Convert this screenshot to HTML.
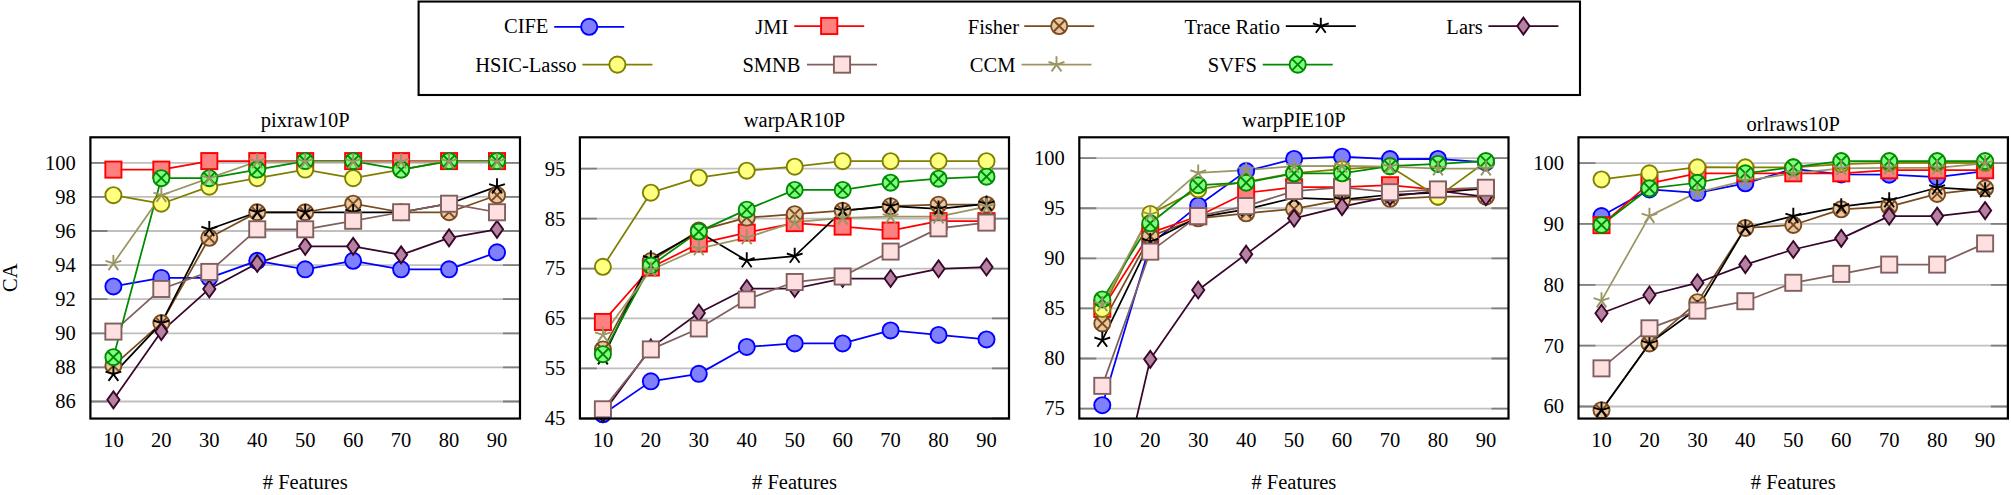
<!DOCTYPE html>
<html lang="en"><head><meta charset="utf-8"><title>CA vs # Features</title>
<style>html,body{margin:0;padding:0;background:#fff}svg{display:block}</style>
</head><body>
<svg width="2011" height="495" viewBox="0 0 2011 495" font-family='"Liberation Serif", "DejaVu Serif", serif' font-size="20.5" fill="#000">
<rect width="2011" height="495" fill="#fff"/>
<g id="plot0">
<clipPath id="clip0"><rect x="90.4" y="137.3" width="429.6" height="281.25"/></clipPath>
<path d="M90.4 401.5H520M90.4 367.4H520M90.4 333.3H520M90.4 299.2H520M90.4 265.1H520M90.4 231H520M90.4 196.9H520M90.4 162.8H520" stroke="#bfbfbf" stroke-width="1.8" fill="none"/>
<path d="M90.4 401.5h17.0M520 401.5h-17.0M90.4 367.4h17.0M520 367.4h-17.0M90.4 333.3h17.0M520 333.3h-17.0M90.4 299.2h17.0M520 299.2h-17.0M90.4 265.1h17.0M520 265.1h-17.0M90.4 231h17.0M520 231h-17.0M90.4 196.9h17.0M520 196.9h-17.0M90.4 162.8h17.0M520 162.8h-17.0" stroke="#7f7f7f" stroke-width="1.8" fill="none"/>
<g clip-path="url(#clip0)" fill="none" stroke-width="1.75" stroke-linejoin="round">
<polyline points="113.4,286.41 161.35,277.89 209.3,277.89 257.25,260.84 305.2,269.36 353.15,260.84 401.1,269.36 449.05,269.36 497,252.31" stroke="#0000ff"/>
<polyline points="113.4,169.62 161.35,169.62 209.3,161.1 257.25,161.1 305.2,161.1 353.15,161.1 401.1,161.1 449.05,161.1 497,161.1" stroke="#ff0000"/>
<polyline points="113.4,365.7 161.35,323.07 209.3,237.82 257.25,212.25 305.2,212.25 353.15,203.72 401.1,212.25 449.05,212.25 497,195.2" stroke="#7a4b1e"/>
<polyline points="113.4,374.22 161.35,323.07 209.3,229.3 257.25,212.25 305.2,212.25 353.15,212.25 401.1,212.25 449.05,203.72 497,186.67" stroke="#000000"/>
<polyline points="113.4,399.8 161.35,331.6 209.3,288.97 257.25,263.4 305.2,246.35 353.15,246.35 401.1,254.87 449.05,237.82 497,229.3" stroke="#38062c"/>
<polyline points="113.4,195.2 161.35,203.72 209.3,186.67 257.25,178.15 305.2,169.62 353.15,178.15 401.1,169.62 449.05,161.1 497,161.1" stroke="#808000"/>
<polyline points="113.4,331.6 161.35,288.97 209.3,271.92 257.25,229.3 305.2,229.3 353.15,220.77 401.1,212.25 449.05,203.72 497,212.25" stroke="#80605f"/>
<polyline points="113.4,357.17 161.35,178.15 209.3,178.15 257.25,169.62 305.2,161.1 353.15,161.1 401.1,169.62 449.05,161.1 497,161.1" stroke="#008a00"/>
<polyline points="113.4,263.4 161.35,195.2 209.3,178.15 257.25,161.44 305.2,161.61 353.15,161.61 401.1,161.61 449.05,161.61 497,161.61" stroke="#9a9562"/>
</g>
<g>
<circle cx="113.4" cy="286.41" r="8.05" fill="#8080ff" stroke="#0000ff" stroke-width="1.9"/>
<circle cx="161.35" cy="277.89" r="8.05" fill="#8080ff" stroke="#0000ff" stroke-width="1.9"/>
<circle cx="209.3" cy="277.89" r="8.05" fill="#8080ff" stroke="#0000ff" stroke-width="1.9"/>
<circle cx="257.25" cy="260.84" r="8.05" fill="#8080ff" stroke="#0000ff" stroke-width="1.9"/>
<circle cx="305.2" cy="269.36" r="8.05" fill="#8080ff" stroke="#0000ff" stroke-width="1.9"/>
<circle cx="353.15" cy="260.84" r="8.05" fill="#8080ff" stroke="#0000ff" stroke-width="1.9"/>
<circle cx="401.1" cy="269.36" r="8.05" fill="#8080ff" stroke="#0000ff" stroke-width="1.9"/>
<circle cx="449.05" cy="269.36" r="8.05" fill="#8080ff" stroke="#0000ff" stroke-width="1.9"/>
<circle cx="497" cy="252.31" r="8.05" fill="#8080ff" stroke="#0000ff" stroke-width="1.9"/>
<rect x="105.35" y="161.57" width="16.1" height="16.1" fill="#ff8080" stroke="#ff0000" stroke-width="1.9"/>
<rect x="153.3" y="161.57" width="16.1" height="16.1" fill="#ff8080" stroke="#ff0000" stroke-width="1.9"/>
<rect x="201.25" y="153.05" width="16.1" height="16.1" fill="#ff8080" stroke="#ff0000" stroke-width="1.9"/>
<rect x="249.2" y="153.05" width="16.1" height="16.1" fill="#ff8080" stroke="#ff0000" stroke-width="1.9"/>
<rect x="297.15" y="153.05" width="16.1" height="16.1" fill="#ff8080" stroke="#ff0000" stroke-width="1.9"/>
<rect x="345.1" y="153.05" width="16.1" height="16.1" fill="#ff8080" stroke="#ff0000" stroke-width="1.9"/>
<rect x="393.05" y="153.05" width="16.1" height="16.1" fill="#ff8080" stroke="#ff0000" stroke-width="1.9"/>
<rect x="441" y="153.05" width="16.1" height="16.1" fill="#ff8080" stroke="#ff0000" stroke-width="1.9"/>
<rect x="488.95" y="153.05" width="16.1" height="16.1" fill="#ff8080" stroke="#ff0000" stroke-width="1.9"/>
<circle cx="113.4" cy="365.7" r="8.05" fill="#e9c7a3" stroke="#7a4b1e" stroke-width="1.9"/><path d="M107.71 360L119.09 371.39M107.71 371.39L119.09 360" fill="none" stroke="#7a4b1e" stroke-width="1.9"/>
<circle cx="161.35" cy="323.07" r="8.05" fill="#e9c7a3" stroke="#7a4b1e" stroke-width="1.9"/><path d="M155.66 317.38L167.04 328.76M155.66 328.76L167.04 317.38" fill="none" stroke="#7a4b1e" stroke-width="1.9"/>
<circle cx="209.3" cy="237.82" r="8.05" fill="#e9c7a3" stroke="#7a4b1e" stroke-width="1.9"/><path d="M203.61 232.13L214.99 243.51M203.61 243.51L214.99 232.13" fill="none" stroke="#7a4b1e" stroke-width="1.9"/>
<circle cx="257.25" cy="212.25" r="8.05" fill="#e9c7a3" stroke="#7a4b1e" stroke-width="1.9"/><path d="M251.56 206.55L262.94 217.94M251.56 217.94L262.94 206.55" fill="none" stroke="#7a4b1e" stroke-width="1.9"/>
<circle cx="305.2" cy="212.25" r="8.05" fill="#e9c7a3" stroke="#7a4b1e" stroke-width="1.9"/><path d="M299.51 206.55L310.89 217.94M299.51 217.94L310.89 206.55" fill="none" stroke="#7a4b1e" stroke-width="1.9"/>
<circle cx="353.15" cy="203.72" r="8.05" fill="#e9c7a3" stroke="#7a4b1e" stroke-width="1.9"/><path d="M347.46 198.03L358.84 209.41M347.46 209.41L358.84 198.03" fill="none" stroke="#7a4b1e" stroke-width="1.9"/>
<circle cx="401.1" cy="212.25" r="8.05" fill="#e9c7a3" stroke="#7a4b1e" stroke-width="1.9"/><path d="M395.41 206.55L406.79 217.94M395.41 217.94L406.79 206.55" fill="none" stroke="#7a4b1e" stroke-width="1.9"/>
<circle cx="449.05" cy="212.25" r="8.05" fill="#e9c7a3" stroke="#7a4b1e" stroke-width="1.9"/><path d="M443.36 206.55L454.74 217.94M443.36 217.94L454.74 206.55" fill="none" stroke="#7a4b1e" stroke-width="1.9"/>
<circle cx="497" cy="195.2" r="8.05" fill="#e9c7a3" stroke="#7a4b1e" stroke-width="1.9"/><path d="M491.31 189.5L502.69 200.89M491.31 200.89L502.69 189.5" fill="none" stroke="#7a4b1e" stroke-width="1.9"/>
<path d="M113.4 374.22L113.4 365.92M113.4 374.22L105.51 371.66M113.4 374.22L108.52 380.93M113.4 374.22L118.28 380.93M113.4 374.22L121.29 371.66" fill="none" stroke="#000000" stroke-width="1.9"/>
<path d="M161.35 323.07L161.35 314.77M161.35 323.07L153.46 320.51M161.35 323.07L156.47 329.78M161.35 323.07L166.23 329.78M161.35 323.07L169.24 320.51" fill="none" stroke="#000000" stroke-width="1.9"/>
<path d="M209.3 229.3L209.3 221M209.3 229.3L201.41 226.73M209.3 229.3L204.42 236.01M209.3 229.3L214.18 236.01M209.3 229.3L217.19 226.73" fill="none" stroke="#000000" stroke-width="1.9"/>
<path d="M257.25 212.25L257.25 203.95M257.25 212.25L249.36 209.68M257.25 212.25L252.37 218.96M257.25 212.25L262.13 218.96M257.25 212.25L265.14 209.68" fill="none" stroke="#000000" stroke-width="1.9"/>
<path d="M305.2 212.25L305.2 203.95M305.2 212.25L297.31 209.68M305.2 212.25L300.32 218.96M305.2 212.25L310.08 218.96M305.2 212.25L313.09 209.68" fill="none" stroke="#000000" stroke-width="1.9"/>
<path d="M353.15 212.25L353.15 203.95M353.15 212.25L345.26 209.68M353.15 212.25L348.27 218.96M353.15 212.25L358.03 218.96M353.15 212.25L361.04 209.68" fill="none" stroke="#000000" stroke-width="1.9"/>
<path d="M401.1 212.25L401.1 203.95M401.1 212.25L393.21 209.68M401.1 212.25L396.22 218.96M401.1 212.25L405.98 218.96M401.1 212.25L408.99 209.68" fill="none" stroke="#000000" stroke-width="1.9"/>
<path d="M449.05 203.72L449.05 195.42M449.05 203.72L441.16 201.16M449.05 203.72L444.17 210.43M449.05 203.72L453.93 210.43M449.05 203.72L456.94 201.16" fill="none" stroke="#000000" stroke-width="1.9"/>
<path d="M497 186.67L497 178.37M497 186.67L489.11 184.11M497 186.67L492.12 193.38M497 186.67L501.88 193.38M497 186.67L504.89 184.11" fill="none" stroke="#000000" stroke-width="1.9"/>
<path d="M113.4 391.35L119.48 399.8L113.4 408.25L107.32 399.8Z" fill="#b5839f" stroke="#38062c" stroke-width="1.9" stroke-miterlimit="10"/>
<path d="M161.35 323.15L167.43 331.6L161.35 340.05L155.27 331.6Z" fill="#b5839f" stroke="#38062c" stroke-width="1.9" stroke-miterlimit="10"/>
<path d="M209.3 280.52L215.38 288.97L209.3 297.42L203.22 288.97Z" fill="#b5839f" stroke="#38062c" stroke-width="1.9" stroke-miterlimit="10"/>
<path d="M257.25 254.95L263.33 263.4L257.25 271.85L251.17 263.4Z" fill="#b5839f" stroke="#38062c" stroke-width="1.9" stroke-miterlimit="10"/>
<path d="M305.2 237.9L311.28 246.35L305.2 254.8L299.12 246.35Z" fill="#b5839f" stroke="#38062c" stroke-width="1.9" stroke-miterlimit="10"/>
<path d="M353.15 237.9L359.23 246.35L353.15 254.8L347.07 246.35Z" fill="#b5839f" stroke="#38062c" stroke-width="1.9" stroke-miterlimit="10"/>
<path d="M401.1 246.42L407.18 254.87L401.1 263.32L395.02 254.87Z" fill="#b5839f" stroke="#38062c" stroke-width="1.9" stroke-miterlimit="10"/>
<path d="M449.05 229.37L455.13 237.82L449.05 246.27L442.97 237.82Z" fill="#b5839f" stroke="#38062c" stroke-width="1.9" stroke-miterlimit="10"/>
<path d="M497 220.85L503.08 229.3L497 237.75L490.92 229.3Z" fill="#b5839f" stroke="#38062c" stroke-width="1.9" stroke-miterlimit="10"/>
<circle cx="113.4" cy="195.2" r="8.05" fill="#ffff80" stroke="#808000" stroke-width="1.9"/>
<circle cx="161.35" cy="203.72" r="8.05" fill="#ffff80" stroke="#808000" stroke-width="1.9"/>
<circle cx="209.3" cy="186.67" r="8.05" fill="#ffff80" stroke="#808000" stroke-width="1.9"/>
<circle cx="257.25" cy="178.15" r="8.05" fill="#ffff80" stroke="#808000" stroke-width="1.9"/>
<circle cx="305.2" cy="169.62" r="8.05" fill="#ffff80" stroke="#808000" stroke-width="1.9"/>
<circle cx="353.15" cy="178.15" r="8.05" fill="#ffff80" stroke="#808000" stroke-width="1.9"/>
<circle cx="401.1" cy="169.62" r="8.05" fill="#ffff80" stroke="#808000" stroke-width="1.9"/>
<circle cx="449.05" cy="161.1" r="8.05" fill="#ffff80" stroke="#808000" stroke-width="1.9"/>
<circle cx="497" cy="161.1" r="8.05" fill="#ffff80" stroke="#808000" stroke-width="1.9"/>
<rect x="105.35" y="323.55" width="16.1" height="16.1" fill="#ffe0e0" stroke="#80605f" stroke-width="1.9"/>
<rect x="153.3" y="280.92" width="16.1" height="16.1" fill="#ffe0e0" stroke="#80605f" stroke-width="1.9"/>
<rect x="201.25" y="263.87" width="16.1" height="16.1" fill="#ffe0e0" stroke="#80605f" stroke-width="1.9"/>
<rect x="249.2" y="221.25" width="16.1" height="16.1" fill="#ffe0e0" stroke="#80605f" stroke-width="1.9"/>
<rect x="297.15" y="221.25" width="16.1" height="16.1" fill="#ffe0e0" stroke="#80605f" stroke-width="1.9"/>
<rect x="345.1" y="212.72" width="16.1" height="16.1" fill="#ffe0e0" stroke="#80605f" stroke-width="1.9"/>
<rect x="393.05" y="204.2" width="16.1" height="16.1" fill="#ffe0e0" stroke="#80605f" stroke-width="1.9"/>
<rect x="441" y="195.67" width="16.1" height="16.1" fill="#ffe0e0" stroke="#80605f" stroke-width="1.9"/>
<rect x="488.95" y="204.2" width="16.1" height="16.1" fill="#ffe0e0" stroke="#80605f" stroke-width="1.9"/>
<circle cx="113.4" cy="357.17" r="8.05" fill="#80ff80" stroke="#008a00" stroke-width="1.9"/><path d="M107.71 351.48L119.09 362.86M107.71 362.86L119.09 351.48" fill="none" stroke="#008a00" stroke-width="1.9"/>
<circle cx="161.35" cy="178.15" r="8.05" fill="#80ff80" stroke="#008a00" stroke-width="1.9"/><path d="M155.66 172.45L167.04 183.84M155.66 183.84L167.04 172.45" fill="none" stroke="#008a00" stroke-width="1.9"/>
<circle cx="209.3" cy="178.15" r="8.05" fill="#80ff80" stroke="#008a00" stroke-width="1.9"/><path d="M203.61 172.45L214.99 183.84M203.61 183.84L214.99 172.45" fill="none" stroke="#008a00" stroke-width="1.9"/>
<circle cx="257.25" cy="169.62" r="8.05" fill="#80ff80" stroke="#008a00" stroke-width="1.9"/><path d="M251.56 163.93L262.94 175.31M251.56 175.31L262.94 163.93" fill="none" stroke="#008a00" stroke-width="1.9"/>
<circle cx="305.2" cy="161.1" r="8.05" fill="#80ff80" stroke="#008a00" stroke-width="1.9"/><path d="M299.51 155.4L310.89 166.79M299.51 166.79L310.89 155.4" fill="none" stroke="#008a00" stroke-width="1.9"/>
<circle cx="353.15" cy="161.1" r="8.05" fill="#80ff80" stroke="#008a00" stroke-width="1.9"/><path d="M347.46 155.4L358.84 166.79M347.46 166.79L358.84 155.4" fill="none" stroke="#008a00" stroke-width="1.9"/>
<circle cx="401.1" cy="169.62" r="8.05" fill="#80ff80" stroke="#008a00" stroke-width="1.9"/><path d="M395.41 163.93L406.79 175.31M395.41 175.31L406.79 163.93" fill="none" stroke="#008a00" stroke-width="1.9"/>
<circle cx="449.05" cy="161.1" r="8.05" fill="#80ff80" stroke="#008a00" stroke-width="1.9"/><path d="M443.36 155.4L454.74 166.79M443.36 166.79L454.74 155.4" fill="none" stroke="#008a00" stroke-width="1.9"/>
<circle cx="497" cy="161.1" r="8.05" fill="#80ff80" stroke="#008a00" stroke-width="1.9"/><path d="M491.31 155.4L502.69 166.79M491.31 166.79L502.69 155.4" fill="none" stroke="#008a00" stroke-width="1.9"/>
<path d="M113.4 263.4L113.4 255.1M113.4 263.4L105.51 260.83M113.4 263.4L108.52 270.11M113.4 263.4L118.28 270.11M113.4 263.4L121.29 260.83" fill="none" stroke="#9a9562" stroke-width="1.9"/>
<path d="M161.35 195.2L161.35 186.9M161.35 195.2L153.46 192.63M161.35 195.2L156.47 201.91M161.35 195.2L166.23 201.91M161.35 195.2L169.24 192.63" fill="none" stroke="#9a9562" stroke-width="1.9"/>
<path d="M209.3 178.15L209.3 169.85M209.3 178.15L201.41 175.58M209.3 178.15L204.42 184.86M209.3 178.15L214.18 184.86M209.3 178.15L217.19 175.58" fill="none" stroke="#9a9562" stroke-width="1.9"/>
<path d="M257.25 161.44L257.25 153.14M257.25 161.44L249.36 158.87M257.25 161.44L252.37 168.15M257.25 161.44L262.13 168.15M257.25 161.44L265.14 158.87" fill="none" stroke="#9a9562" stroke-width="1.9"/>
<path d="M305.2 161.61L305.2 153.31M305.2 161.61L297.31 159.04M305.2 161.61L300.32 168.32M305.2 161.61L310.08 168.32M305.2 161.61L313.09 159.04" fill="none" stroke="#9a9562" stroke-width="1.9"/>
<path d="M353.15 161.61L353.15 153.31M353.15 161.61L345.26 159.04M353.15 161.61L348.27 168.32M353.15 161.61L358.03 168.32M353.15 161.61L361.04 159.04" fill="none" stroke="#9a9562" stroke-width="1.9"/>
<path d="M401.1 161.61L401.1 153.31M401.1 161.61L393.21 159.04M401.1 161.61L396.22 168.32M401.1 161.61L405.98 168.32M401.1 161.61L408.99 159.04" fill="none" stroke="#9a9562" stroke-width="1.9"/>
<path d="M449.05 161.61L449.05 153.31M449.05 161.61L441.16 159.04M449.05 161.61L444.17 168.32M449.05 161.61L453.93 168.32M449.05 161.61L456.94 159.04" fill="none" stroke="#9a9562" stroke-width="1.9"/>
<path d="M497 161.61L497 153.31M497 161.61L489.11 159.04M497 161.61L492.12 168.32M497 161.61L501.88 168.32M497 161.61L504.89 159.04" fill="none" stroke="#9a9562" stroke-width="1.9"/>
</g>
<rect x="90.4" y="137.3" width="429.6" height="281.25" fill="none" stroke="#000" stroke-width="2.2"/>
<g text-anchor="end">
<text x="75.8" y="408.4">86</text>
<text x="75.8" y="374.3">88</text>
<text x="75.8" y="340.2">90</text>
<text x="75.8" y="306.1">92</text>
<text x="75.8" y="272">94</text>
<text x="75.8" y="237.9">96</text>
<text x="75.8" y="203.8">98</text>
<text x="75.8" y="169.7">100</text>
</g>
<g text-anchor="middle">
<text x="113.4" y="447.3">10</text>
<text x="161.35" y="447.3">20</text>
<text x="209.3" y="447.3">30</text>
<text x="257.25" y="447.3">40</text>
<text x="305.2" y="447.3">50</text>
<text x="353.15" y="447.3">60</text>
<text x="401.1" y="447.3">70</text>
<text x="449.05" y="447.3">80</text>
<text x="497" y="447.3">90</text>
<text x="305.2" y="488.9"># Features</text>
<text x="305.2" y="126.9">pixraw10P</text>
</g>
</g>
<g id="plot1">
<clipPath id="clip1"><rect x="579.9" y="137.3" width="429.1" height="281.25"/></clipPath>
<path d="M579.9 418.3H1009M579.9 368.38H1009M579.9 318.46H1009M579.9 268.54H1009M579.9 218.62H1009M579.9 168.7H1009" stroke="#bfbfbf" stroke-width="1.8" fill="none"/>
<path d="M579.9 418.3h17.0M1009 418.3h-17.0M579.9 368.38h17.0M1009 368.38h-17.0M579.9 318.46h17.0M1009 318.46h-17.0M579.9 268.54h17.0M1009 268.54h-17.0M579.9 218.62h17.0M1009 218.62h-17.0M579.9 168.7h17.0M1009 168.7h-17.0" stroke="#7f7f7f" stroke-width="1.8" fill="none"/>
<g clip-path="url(#clip1)" fill="none" stroke-width="1.75" stroke-linejoin="round">
<polyline points="602.9,414.31 650.85,381.36 698.8,373.87 746.75,346.91 794.7,343.42 842.65,343.42 890.6,330.44 938.55,334.93 986.5,339.43" stroke="#0000ff"/>
<polyline points="602.9,321.95 650.85,267.54 698.8,243.58 746.75,232.6 794.7,223.11 842.65,226.61 890.6,230.6 938.55,221.12 986.5,221.12" stroke="#ff0000"/>
<polyline points="602.9,349.41 650.85,261.05 698.8,230.6 746.75,217.62 794.7,214.13 842.65,210.63 890.6,206.14 938.55,204.64 986.5,204.64" stroke="#7a4b1e"/>
<polyline points="602.9,357.65 650.85,258.56 698.8,232.1 746.75,260.55 794.7,256.06 842.65,210.63 890.6,206.14 938.55,208.89 986.5,203.89" stroke="#000000"/>
<polyline points="602.9,413.31 650.85,347.91 698.8,312.97 746.75,288.51 794.7,288.51 842.65,278.52 890.6,278.52 938.55,268.79 986.5,267.04" stroke="#38062c"/>
<polyline points="602.9,266.79 650.85,192.66 698.8,177.69 746.75,170.7 794.7,166.7 842.65,161.21 890.6,161.21 938.55,161.21 986.5,161.21" stroke="#808000"/>
<polyline points="602.9,409.31 650.85,349.41 698.8,328.44 746.75,299.49 794.7,282.02 842.65,276.53 890.6,251.57 938.55,228.35 986.5,222.61" stroke="#80605f"/>
<polyline points="602.9,354.15 650.85,265.54 698.8,231.6 746.75,209.63 794.7,189.92 842.65,189.92 890.6,182.68 938.55,178.68 986.5,176.69" stroke="#008a00"/>
<polyline points="602.9,334.93 650.85,270.04 698.8,248.57 746.75,237.59 794.7,222.11 842.65,217.87 890.6,216.62 938.55,216.62 986.5,206.64" stroke="#9a9562"/>
</g>
<g>
<circle cx="602.9" cy="414.31" r="8.05" fill="#8080ff" stroke="#0000ff" stroke-width="1.9"/>
<circle cx="650.85" cy="381.36" r="8.05" fill="#8080ff" stroke="#0000ff" stroke-width="1.9"/>
<circle cx="698.8" cy="373.87" r="8.05" fill="#8080ff" stroke="#0000ff" stroke-width="1.9"/>
<circle cx="746.75" cy="346.91" r="8.05" fill="#8080ff" stroke="#0000ff" stroke-width="1.9"/>
<circle cx="794.7" cy="343.42" r="8.05" fill="#8080ff" stroke="#0000ff" stroke-width="1.9"/>
<circle cx="842.65" cy="343.42" r="8.05" fill="#8080ff" stroke="#0000ff" stroke-width="1.9"/>
<circle cx="890.6" cy="330.44" r="8.05" fill="#8080ff" stroke="#0000ff" stroke-width="1.9"/>
<circle cx="938.55" cy="334.93" r="8.05" fill="#8080ff" stroke="#0000ff" stroke-width="1.9"/>
<circle cx="986.5" cy="339.43" r="8.05" fill="#8080ff" stroke="#0000ff" stroke-width="1.9"/>
<rect x="594.85" y="313.9" width="16.1" height="16.1" fill="#ff8080" stroke="#ff0000" stroke-width="1.9"/>
<rect x="642.8" y="259.49" width="16.1" height="16.1" fill="#ff8080" stroke="#ff0000" stroke-width="1.9"/>
<rect x="690.75" y="235.53" width="16.1" height="16.1" fill="#ff8080" stroke="#ff0000" stroke-width="1.9"/>
<rect x="738.7" y="224.55" width="16.1" height="16.1" fill="#ff8080" stroke="#ff0000" stroke-width="1.9"/>
<rect x="786.65" y="215.06" width="16.1" height="16.1" fill="#ff8080" stroke="#ff0000" stroke-width="1.9"/>
<rect x="834.6" y="218.56" width="16.1" height="16.1" fill="#ff8080" stroke="#ff0000" stroke-width="1.9"/>
<rect x="882.55" y="222.55" width="16.1" height="16.1" fill="#ff8080" stroke="#ff0000" stroke-width="1.9"/>
<rect x="930.5" y="213.07" width="16.1" height="16.1" fill="#ff8080" stroke="#ff0000" stroke-width="1.9"/>
<rect x="978.45" y="213.07" width="16.1" height="16.1" fill="#ff8080" stroke="#ff0000" stroke-width="1.9"/>
<circle cx="602.9" cy="349.41" r="8.05" fill="#e9c7a3" stroke="#7a4b1e" stroke-width="1.9"/><path d="M597.21 343.72L608.59 355.1M597.21 355.1L608.59 343.72" fill="none" stroke="#7a4b1e" stroke-width="1.9"/>
<circle cx="650.85" cy="261.05" r="8.05" fill="#e9c7a3" stroke="#7a4b1e" stroke-width="1.9"/><path d="M645.16 255.36L656.54 266.74M645.16 266.74L656.54 255.36" fill="none" stroke="#7a4b1e" stroke-width="1.9"/>
<circle cx="698.8" cy="230.6" r="8.05" fill="#e9c7a3" stroke="#7a4b1e" stroke-width="1.9"/><path d="M693.11 224.91L704.49 236.29M693.11 236.29L704.49 224.91" fill="none" stroke="#7a4b1e" stroke-width="1.9"/>
<circle cx="746.75" cy="217.62" r="8.05" fill="#e9c7a3" stroke="#7a4b1e" stroke-width="1.9"/><path d="M741.06 211.93L752.44 223.31M741.06 223.31L752.44 211.93" fill="none" stroke="#7a4b1e" stroke-width="1.9"/>
<circle cx="794.7" cy="214.13" r="8.05" fill="#e9c7a3" stroke="#7a4b1e" stroke-width="1.9"/><path d="M789.01 208.43L800.39 219.82M789.01 219.82L800.39 208.43" fill="none" stroke="#7a4b1e" stroke-width="1.9"/>
<circle cx="842.65" cy="210.63" r="8.05" fill="#e9c7a3" stroke="#7a4b1e" stroke-width="1.9"/><path d="M836.96 204.94L848.34 216.33M836.96 216.33L848.34 204.94" fill="none" stroke="#7a4b1e" stroke-width="1.9"/>
<circle cx="890.6" cy="206.14" r="8.05" fill="#e9c7a3" stroke="#7a4b1e" stroke-width="1.9"/><path d="M884.91 200.45L896.29 211.83M884.91 211.83L896.29 200.45" fill="none" stroke="#7a4b1e" stroke-width="1.9"/>
<circle cx="938.55" cy="204.64" r="8.05" fill="#e9c7a3" stroke="#7a4b1e" stroke-width="1.9"/><path d="M932.86 198.95L944.24 210.33M932.86 210.33L944.24 198.95" fill="none" stroke="#7a4b1e" stroke-width="1.9"/>
<circle cx="986.5" cy="204.64" r="8.05" fill="#e9c7a3" stroke="#7a4b1e" stroke-width="1.9"/><path d="M980.81 198.95L992.19 210.33M980.81 210.33L992.19 198.95" fill="none" stroke="#7a4b1e" stroke-width="1.9"/>
<path d="M602.9 357.65L602.9 349.35M602.9 357.65L595.01 355.08M602.9 357.65L598.02 364.36M602.9 357.65L607.78 364.36M602.9 357.65L610.79 355.08" fill="none" stroke="#000000" stroke-width="1.9"/>
<path d="M650.85 258.56L650.85 250.26M650.85 258.56L642.96 255.99M650.85 258.56L645.97 265.27M650.85 258.56L655.73 265.27M650.85 258.56L658.74 255.99" fill="none" stroke="#000000" stroke-width="1.9"/>
<path d="M698.8 232.1L698.8 223.8M698.8 232.1L690.91 229.53M698.8 232.1L693.92 238.81M698.8 232.1L703.68 238.81M698.8 232.1L706.69 229.53" fill="none" stroke="#000000" stroke-width="1.9"/>
<path d="M746.75 260.55L746.75 252.25M746.75 260.55L738.86 257.99M746.75 260.55L741.87 267.27M746.75 260.55L751.63 267.27M746.75 260.55L754.64 257.99" fill="none" stroke="#000000" stroke-width="1.9"/>
<path d="M794.7 256.06L794.7 247.76M794.7 256.06L786.81 253.5M794.7 256.06L789.82 262.77M794.7 256.06L799.58 262.77M794.7 256.06L802.59 253.5" fill="none" stroke="#000000" stroke-width="1.9"/>
<path d="M842.65 210.63L842.65 202.33M842.65 210.63L834.76 208.07M842.65 210.63L837.77 217.35M842.65 210.63L847.53 217.35M842.65 210.63L850.54 208.07" fill="none" stroke="#000000" stroke-width="1.9"/>
<path d="M890.6 206.14L890.6 197.84M890.6 206.14L882.71 203.58M890.6 206.14L885.72 212.85M890.6 206.14L895.48 212.85M890.6 206.14L898.49 203.58" fill="none" stroke="#000000" stroke-width="1.9"/>
<path d="M938.55 208.89L938.55 200.59M938.55 208.89L930.66 206.32M938.55 208.89L933.67 215.6M938.55 208.89L943.43 215.6M938.55 208.89L946.44 206.32" fill="none" stroke="#000000" stroke-width="1.9"/>
<path d="M986.5 203.89L986.5 195.59M986.5 203.89L978.61 201.33M986.5 203.89L981.62 210.61M986.5 203.89L991.38 210.61M986.5 203.89L994.39 201.33" fill="none" stroke="#000000" stroke-width="1.9"/>
<path d="M602.9 404.86L608.98 413.31L602.9 421.76L596.82 413.31Z" fill="#b5839f" stroke="#38062c" stroke-width="1.9" stroke-miterlimit="10"/>
<path d="M650.85 339.46L656.93 347.91L650.85 356.36L644.77 347.91Z" fill="#b5839f" stroke="#38062c" stroke-width="1.9" stroke-miterlimit="10"/>
<path d="M698.8 304.52L704.88 312.97L698.8 321.42L692.72 312.97Z" fill="#b5839f" stroke="#38062c" stroke-width="1.9" stroke-miterlimit="10"/>
<path d="M746.75 280.06L752.83 288.51L746.75 296.96L740.67 288.51Z" fill="#b5839f" stroke="#38062c" stroke-width="1.9" stroke-miterlimit="10"/>
<path d="M794.7 280.06L800.78 288.51L794.7 296.96L788.62 288.51Z" fill="#b5839f" stroke="#38062c" stroke-width="1.9" stroke-miterlimit="10"/>
<path d="M842.65 270.07L848.73 278.52L842.65 286.97L836.57 278.52Z" fill="#b5839f" stroke="#38062c" stroke-width="1.9" stroke-miterlimit="10"/>
<path d="M890.6 270.07L896.68 278.52L890.6 286.97L884.52 278.52Z" fill="#b5839f" stroke="#38062c" stroke-width="1.9" stroke-miterlimit="10"/>
<path d="M938.55 260.34L944.63 268.79L938.55 277.24L932.47 268.79Z" fill="#b5839f" stroke="#38062c" stroke-width="1.9" stroke-miterlimit="10"/>
<path d="M986.5 258.59L992.58 267.04L986.5 275.49L980.42 267.04Z" fill="#b5839f" stroke="#38062c" stroke-width="1.9" stroke-miterlimit="10"/>
<circle cx="602.9" cy="266.79" r="8.05" fill="#ffff80" stroke="#808000" stroke-width="1.9"/>
<circle cx="650.85" cy="192.66" r="8.05" fill="#ffff80" stroke="#808000" stroke-width="1.9"/>
<circle cx="698.8" cy="177.69" r="8.05" fill="#ffff80" stroke="#808000" stroke-width="1.9"/>
<circle cx="746.75" cy="170.7" r="8.05" fill="#ffff80" stroke="#808000" stroke-width="1.9"/>
<circle cx="794.7" cy="166.7" r="8.05" fill="#ffff80" stroke="#808000" stroke-width="1.9"/>
<circle cx="842.65" cy="161.21" r="8.05" fill="#ffff80" stroke="#808000" stroke-width="1.9"/>
<circle cx="890.6" cy="161.21" r="8.05" fill="#ffff80" stroke="#808000" stroke-width="1.9"/>
<circle cx="938.55" cy="161.21" r="8.05" fill="#ffff80" stroke="#808000" stroke-width="1.9"/>
<circle cx="986.5" cy="161.21" r="8.05" fill="#ffff80" stroke="#808000" stroke-width="1.9"/>
<rect x="594.85" y="401.26" width="16.1" height="16.1" fill="#ffe0e0" stroke="#80605f" stroke-width="1.9"/>
<rect x="642.8" y="341.36" width="16.1" height="16.1" fill="#ffe0e0" stroke="#80605f" stroke-width="1.9"/>
<rect x="690.75" y="320.39" width="16.1" height="16.1" fill="#ffe0e0" stroke="#80605f" stroke-width="1.9"/>
<rect x="738.7" y="291.44" width="16.1" height="16.1" fill="#ffe0e0" stroke="#80605f" stroke-width="1.9"/>
<rect x="786.65" y="273.97" width="16.1" height="16.1" fill="#ffe0e0" stroke="#80605f" stroke-width="1.9"/>
<rect x="834.6" y="268.48" width="16.1" height="16.1" fill="#ffe0e0" stroke="#80605f" stroke-width="1.9"/>
<rect x="882.55" y="243.52" width="16.1" height="16.1" fill="#ffe0e0" stroke="#80605f" stroke-width="1.9"/>
<rect x="930.5" y="220.3" width="16.1" height="16.1" fill="#ffe0e0" stroke="#80605f" stroke-width="1.9"/>
<rect x="978.45" y="214.56" width="16.1" height="16.1" fill="#ffe0e0" stroke="#80605f" stroke-width="1.9"/>
<circle cx="602.9" cy="354.15" r="8.05" fill="#80ff80" stroke="#008a00" stroke-width="1.9"/><path d="M597.21 348.46L608.59 359.85M597.21 359.85L608.59 348.46" fill="none" stroke="#008a00" stroke-width="1.9"/>
<circle cx="650.85" cy="265.54" r="8.05" fill="#80ff80" stroke="#008a00" stroke-width="1.9"/><path d="M645.16 259.85L656.54 271.24M645.16 271.24L656.54 259.85" fill="none" stroke="#008a00" stroke-width="1.9"/>
<circle cx="698.8" cy="231.6" r="8.05" fill="#80ff80" stroke="#008a00" stroke-width="1.9"/><path d="M693.11 225.91L704.49 237.29M693.11 237.29L704.49 225.91" fill="none" stroke="#008a00" stroke-width="1.9"/>
<circle cx="746.75" cy="209.63" r="8.05" fill="#80ff80" stroke="#008a00" stroke-width="1.9"/><path d="M741.06 203.94L752.44 215.33M741.06 215.33L752.44 203.94" fill="none" stroke="#008a00" stroke-width="1.9"/>
<circle cx="794.7" cy="189.92" r="8.05" fill="#80ff80" stroke="#008a00" stroke-width="1.9"/><path d="M789.01 184.22L800.39 195.61M789.01 195.61L800.39 184.22" fill="none" stroke="#008a00" stroke-width="1.9"/>
<circle cx="842.65" cy="189.92" r="8.05" fill="#80ff80" stroke="#008a00" stroke-width="1.9"/><path d="M836.96 184.22L848.34 195.61M836.96 195.61L848.34 184.22" fill="none" stroke="#008a00" stroke-width="1.9"/>
<circle cx="890.6" cy="182.68" r="8.05" fill="#80ff80" stroke="#008a00" stroke-width="1.9"/><path d="M884.91 176.99L896.29 188.37M884.91 188.37L896.29 176.99" fill="none" stroke="#008a00" stroke-width="1.9"/>
<circle cx="938.55" cy="178.68" r="8.05" fill="#80ff80" stroke="#008a00" stroke-width="1.9"/><path d="M932.86 172.99L944.24 184.38M932.86 184.38L944.24 172.99" fill="none" stroke="#008a00" stroke-width="1.9"/>
<circle cx="986.5" cy="176.69" r="8.05" fill="#80ff80" stroke="#008a00" stroke-width="1.9"/><path d="M980.81 170.99L992.19 182.38M980.81 182.38L992.19 170.99" fill="none" stroke="#008a00" stroke-width="1.9"/>
<path d="M602.9 334.93L602.9 326.63M602.9 334.93L595.01 332.37M602.9 334.93L598.02 341.65M602.9 334.93L607.78 341.65M602.9 334.93L610.79 332.37" fill="none" stroke="#9a9562" stroke-width="1.9"/>
<path d="M650.85 270.04L650.85 261.74M650.85 270.04L642.96 267.47M650.85 270.04L645.97 276.75M650.85 270.04L655.73 276.75M650.85 270.04L658.74 267.47" fill="none" stroke="#9a9562" stroke-width="1.9"/>
<path d="M698.8 248.57L698.8 240.27M698.8 248.57L690.91 246.01M698.8 248.57L693.92 255.29M698.8 248.57L703.68 255.29M698.8 248.57L706.69 246.01" fill="none" stroke="#9a9562" stroke-width="1.9"/>
<path d="M746.75 237.59L746.75 229.29M746.75 237.59L738.86 235.02M746.75 237.59L741.87 244.3M746.75 237.59L751.63 244.3M746.75 237.59L754.64 235.02" fill="none" stroke="#9a9562" stroke-width="1.9"/>
<path d="M794.7 222.11L794.7 213.81M794.7 222.11L786.81 219.55M794.7 222.11L789.82 228.83M794.7 222.11L799.58 228.83M794.7 222.11L802.59 219.55" fill="none" stroke="#9a9562" stroke-width="1.9"/>
<path d="M842.65 217.87L842.65 209.57M842.65 217.87L834.76 215.31M842.65 217.87L837.77 224.59M842.65 217.87L847.53 224.59M842.65 217.87L850.54 215.31" fill="none" stroke="#9a9562" stroke-width="1.9"/>
<path d="M890.6 216.62L890.6 208.32M890.6 216.62L882.71 214.06M890.6 216.62L885.72 223.34M890.6 216.62L895.48 223.34M890.6 216.62L898.49 214.06" fill="none" stroke="#9a9562" stroke-width="1.9"/>
<path d="M938.55 216.62L938.55 208.32M938.55 216.62L930.66 214.06M938.55 216.62L933.67 223.34M938.55 216.62L943.43 223.34M938.55 216.62L946.44 214.06" fill="none" stroke="#9a9562" stroke-width="1.9"/>
<path d="M986.5 206.64L986.5 198.34M986.5 206.64L978.61 204.07M986.5 206.64L981.62 213.35M986.5 206.64L991.38 213.35M986.5 206.64L994.39 204.07" fill="none" stroke="#9a9562" stroke-width="1.9"/>
</g>
<rect x="579.9" y="137.3" width="429.1" height="281.25" fill="none" stroke="#000" stroke-width="2.2"/>
<g text-anchor="end">
<text x="565.3" y="425.2">45</text>
<text x="565.3" y="375.28">55</text>
<text x="565.3" y="325.36">65</text>
<text x="565.3" y="275.44">75</text>
<text x="565.3" y="225.52">85</text>
<text x="565.3" y="175.6">95</text>
</g>
<g text-anchor="middle">
<text x="602.9" y="447.3">10</text>
<text x="650.85" y="447.3">20</text>
<text x="698.8" y="447.3">30</text>
<text x="746.75" y="447.3">40</text>
<text x="794.7" y="447.3">50</text>
<text x="842.65" y="447.3">60</text>
<text x="890.6" y="447.3">70</text>
<text x="938.55" y="447.3">80</text>
<text x="986.5" y="447.3">90</text>
<text x="794.45" y="488.9"># Features</text>
<text x="794.45" y="126.9">warpAR10P</text>
</g>
</g>
<g id="plot2">
<clipPath id="clip2"><rect x="1079.3" y="137.3" width="429.2" height="281.25"/></clipPath>
<path d="M1079.3 408.57H1508.5M1079.3 358.5H1508.5M1079.3 308.43H1508.5M1079.3 258.35H1508.5M1079.3 208.27H1508.5M1079.3 158.2H1508.5" stroke="#bfbfbf" stroke-width="1.8" fill="none"/>
<path d="M1079.3 408.57h17.0M1508.5 408.57h-17.0M1079.3 358.5h17.0M1508.5 358.5h-17.0M1079.3 308.43h17.0M1508.5 308.43h-17.0M1079.3 258.35h17.0M1508.5 258.35h-17.0M1079.3 208.27h17.0M1508.5 208.27h-17.0M1079.3 158.2h17.0M1508.5 158.2h-17.0" stroke="#7f7f7f" stroke-width="1.8" fill="none"/>
<g clip-path="url(#clip2)" fill="none" stroke-width="1.75" stroke-linejoin="round">
<polyline points="1102.3,405.17 1150.25,244.33 1198.2,205.57 1246.15,171.12 1294.1,158.9 1342.05,156.7 1390,159.1 1437.95,158.9 1485.9,162.41" stroke="#0000ff"/>
<polyline points="1102.3,308.93 1150.25,232.81 1198.2,216.29 1246.15,192.75 1294.1,187.24 1342.05,187.24 1390,185.24 1437.95,189.95 1485.9,189.25" stroke="#ff0000"/>
<polyline points="1102.3,323.45 1150.25,236.32 1198.2,218.29 1246.15,213.28 1294.1,208.88 1342.05,199.96 1390,198.86 1437.95,196.66 1485.9,196.66" stroke="#7a4b1e"/>
<polyline points="1102.3,340.07 1150.25,241.32 1198.2,217.29 1246.15,209.38 1294.1,197.76 1342.05,199.66 1390,194.75 1437.95,192.75 1485.9,188.25" stroke="#000000"/>
<polyline points="1102.3,564.81 1150.25,359.3 1198.2,290 1246.15,254.14 1294.1,218.29 1342.05,206.67 1390,196.56 1437.95,190.75 1485.9,196.76" stroke="#38062c"/>
<polyline points="1102.3,308.93 1150.25,213.88 1198.2,189.45 1246.15,181.74 1294.1,173.22 1342.05,169.22 1390,166.41 1437.95,196.66 1485.9,161.71" stroke="#808000"/>
<polyline points="1102.3,385.84 1150.25,251.64 1198.2,216.09 1246.15,206.07 1294.1,191.05 1342.05,187.44 1390,192.25 1437.95,189.45 1485.9,187.74" stroke="#80605f"/>
<polyline points="1102.3,299.41 1150.25,223.3 1198.2,185.24 1246.15,182.74 1294.1,173.32 1342.05,173.32 1390,166.11 1437.95,163.91 1485.9,161.1" stroke="#008a00"/>
<polyline points="1102.3,304.42 1150.25,214.38 1198.2,172.82 1246.15,170.02 1294.1,166.21 1342.05,165.81 1390,166.71 1437.95,168.72 1485.9,168.72" stroke="#9a9562"/>
</g>
<g>
<circle cx="1102.3" cy="405.17" r="8.05" fill="#8080ff" stroke="#0000ff" stroke-width="1.9"/>
<circle cx="1150.25" cy="244.33" r="8.05" fill="#8080ff" stroke="#0000ff" stroke-width="1.9"/>
<circle cx="1198.2" cy="205.57" r="8.05" fill="#8080ff" stroke="#0000ff" stroke-width="1.9"/>
<circle cx="1246.15" cy="171.12" r="8.05" fill="#8080ff" stroke="#0000ff" stroke-width="1.9"/>
<circle cx="1294.1" cy="158.9" r="8.05" fill="#8080ff" stroke="#0000ff" stroke-width="1.9"/>
<circle cx="1342.05" cy="156.7" r="8.05" fill="#8080ff" stroke="#0000ff" stroke-width="1.9"/>
<circle cx="1390" cy="159.1" r="8.05" fill="#8080ff" stroke="#0000ff" stroke-width="1.9"/>
<circle cx="1437.95" cy="158.9" r="8.05" fill="#8080ff" stroke="#0000ff" stroke-width="1.9"/>
<circle cx="1485.9" cy="162.41" r="8.05" fill="#8080ff" stroke="#0000ff" stroke-width="1.9"/>
<rect x="1094.25" y="300.88" width="16.1" height="16.1" fill="#ff8080" stroke="#ff0000" stroke-width="1.9"/>
<rect x="1142.2" y="224.76" width="16.1" height="16.1" fill="#ff8080" stroke="#ff0000" stroke-width="1.9"/>
<rect x="1190.15" y="208.24" width="16.1" height="16.1" fill="#ff8080" stroke="#ff0000" stroke-width="1.9"/>
<rect x="1238.1" y="184.7" width="16.1" height="16.1" fill="#ff8080" stroke="#ff0000" stroke-width="1.9"/>
<rect x="1286.05" y="179.19" width="16.1" height="16.1" fill="#ff8080" stroke="#ff0000" stroke-width="1.9"/>
<rect x="1334" y="179.19" width="16.1" height="16.1" fill="#ff8080" stroke="#ff0000" stroke-width="1.9"/>
<rect x="1381.95" y="177.19" width="16.1" height="16.1" fill="#ff8080" stroke="#ff0000" stroke-width="1.9"/>
<rect x="1429.9" y="181.9" width="16.1" height="16.1" fill="#ff8080" stroke="#ff0000" stroke-width="1.9"/>
<rect x="1477.85" y="181.2" width="16.1" height="16.1" fill="#ff8080" stroke="#ff0000" stroke-width="1.9"/>
<circle cx="1102.3" cy="323.45" r="8.05" fill="#e9c7a3" stroke="#7a4b1e" stroke-width="1.9"/><path d="M1096.61 317.76L1107.99 329.14M1096.61 329.14L1107.99 317.76" fill="none" stroke="#7a4b1e" stroke-width="1.9"/>
<circle cx="1150.25" cy="236.32" r="8.05" fill="#e9c7a3" stroke="#7a4b1e" stroke-width="1.9"/><path d="M1144.56 230.62L1155.94 242.01M1144.56 242.01L1155.94 230.62" fill="none" stroke="#7a4b1e" stroke-width="1.9"/>
<circle cx="1198.2" cy="218.29" r="8.05" fill="#e9c7a3" stroke="#7a4b1e" stroke-width="1.9"/><path d="M1192.51 212.6L1203.89 223.98M1192.51 223.98L1203.89 212.6" fill="none" stroke="#7a4b1e" stroke-width="1.9"/>
<circle cx="1246.15" cy="213.28" r="8.05" fill="#e9c7a3" stroke="#7a4b1e" stroke-width="1.9"/><path d="M1240.46 207.59L1251.84 218.97M1240.46 218.97L1251.84 207.59" fill="none" stroke="#7a4b1e" stroke-width="1.9"/>
<circle cx="1294.1" cy="208.88" r="8.05" fill="#e9c7a3" stroke="#7a4b1e" stroke-width="1.9"/><path d="M1288.41 203.18L1299.79 214.57M1288.41 214.57L1299.79 203.18" fill="none" stroke="#7a4b1e" stroke-width="1.9"/>
<circle cx="1342.05" cy="199.96" r="8.05" fill="#e9c7a3" stroke="#7a4b1e" stroke-width="1.9"/><path d="M1336.36 194.27L1347.74 205.65M1336.36 205.65L1347.74 194.27" fill="none" stroke="#7a4b1e" stroke-width="1.9"/>
<circle cx="1390" cy="198.86" r="8.05" fill="#e9c7a3" stroke="#7a4b1e" stroke-width="1.9"/><path d="M1384.31 193.17L1395.69 204.55M1384.31 204.55L1395.69 193.17" fill="none" stroke="#7a4b1e" stroke-width="1.9"/>
<circle cx="1437.95" cy="196.66" r="8.05" fill="#e9c7a3" stroke="#7a4b1e" stroke-width="1.9"/><path d="M1432.26 190.97L1443.64 202.35M1432.26 202.35L1443.64 190.97" fill="none" stroke="#7a4b1e" stroke-width="1.9"/>
<circle cx="1485.9" cy="196.66" r="8.05" fill="#e9c7a3" stroke="#7a4b1e" stroke-width="1.9"/><path d="M1480.21 190.97L1491.59 202.35M1480.21 202.35L1491.59 190.97" fill="none" stroke="#7a4b1e" stroke-width="1.9"/>
<path d="M1102.3 340.07L1102.3 331.77M1102.3 340.07L1094.41 337.51M1102.3 340.07L1097.42 346.79M1102.3 340.07L1107.18 346.79M1102.3 340.07L1110.19 337.51" fill="none" stroke="#000000" stroke-width="1.9"/>
<path d="M1150.25 241.32L1150.25 233.02M1150.25 241.32L1142.36 238.76M1150.25 241.32L1145.37 248.04M1150.25 241.32L1155.13 248.04M1150.25 241.32L1158.14 238.76" fill="none" stroke="#000000" stroke-width="1.9"/>
<path d="M1198.2 217.29L1198.2 208.99M1198.2 217.29L1190.31 214.72M1198.2 217.29L1193.32 224M1198.2 217.29L1203.08 224M1198.2 217.29L1206.09 214.72" fill="none" stroke="#000000" stroke-width="1.9"/>
<path d="M1246.15 209.38L1246.15 201.08M1246.15 209.38L1238.26 206.81M1246.15 209.38L1241.27 216.09M1246.15 209.38L1251.03 216.09M1246.15 209.38L1254.04 206.81" fill="none" stroke="#000000" stroke-width="1.9"/>
<path d="M1294.1 197.76L1294.1 189.46M1294.1 197.76L1286.21 195.19M1294.1 197.76L1289.22 204.47M1294.1 197.76L1298.98 204.47M1294.1 197.76L1301.99 195.19" fill="none" stroke="#000000" stroke-width="1.9"/>
<path d="M1342.05 199.66L1342.05 191.36M1342.05 199.66L1334.16 197.1M1342.05 199.66L1337.17 206.38M1342.05 199.66L1346.93 206.38M1342.05 199.66L1349.94 197.1" fill="none" stroke="#000000" stroke-width="1.9"/>
<path d="M1390 194.75L1390 186.45M1390 194.75L1382.11 192.19M1390 194.75L1385.12 201.47M1390 194.75L1394.88 201.47M1390 194.75L1397.89 192.19" fill="none" stroke="#000000" stroke-width="1.9"/>
<path d="M1437.95 192.75L1437.95 184.45M1437.95 192.75L1430.06 190.19M1437.95 192.75L1433.07 199.47M1437.95 192.75L1442.83 199.47M1437.95 192.75L1445.84 190.19" fill="none" stroke="#000000" stroke-width="1.9"/>
<path d="M1485.9 188.25L1485.9 179.94M1485.9 188.25L1478.01 185.68M1485.9 188.25L1481.02 194.96M1485.9 188.25L1490.78 194.96M1485.9 188.25L1493.79 185.68" fill="none" stroke="#000000" stroke-width="1.9"/>
<path d="M1150.25 350.85L1156.33 359.3L1150.25 367.75L1144.17 359.3Z" fill="#b5839f" stroke="#38062c" stroke-width="1.9" stroke-miterlimit="10"/>
<path d="M1198.2 281.55L1204.28 290L1198.2 298.45L1192.12 290Z" fill="#b5839f" stroke="#38062c" stroke-width="1.9" stroke-miterlimit="10"/>
<path d="M1246.15 245.69L1252.23 254.14L1246.15 262.59L1240.07 254.14Z" fill="#b5839f" stroke="#38062c" stroke-width="1.9" stroke-miterlimit="10"/>
<path d="M1294.1 209.84L1300.18 218.29L1294.1 226.74L1288.02 218.29Z" fill="#b5839f" stroke="#38062c" stroke-width="1.9" stroke-miterlimit="10"/>
<path d="M1342.05 198.22L1348.13 206.67L1342.05 215.12L1335.97 206.67Z" fill="#b5839f" stroke="#38062c" stroke-width="1.9" stroke-miterlimit="10"/>
<path d="M1390 188.11L1396.08 196.56L1390 205.01L1383.92 196.56Z" fill="#b5839f" stroke="#38062c" stroke-width="1.9" stroke-miterlimit="10"/>
<path d="M1437.95 182.3L1444.03 190.75L1437.95 199.2L1431.87 190.75Z" fill="#b5839f" stroke="#38062c" stroke-width="1.9" stroke-miterlimit="10"/>
<path d="M1485.9 188.31L1491.98 196.76L1485.9 205.21L1479.82 196.76Z" fill="#b5839f" stroke="#38062c" stroke-width="1.9" stroke-miterlimit="10"/>
<circle cx="1102.3" cy="308.93" r="8.05" fill="#ffff80" stroke="#808000" stroke-width="1.9"/>
<circle cx="1150.25" cy="213.88" r="8.05" fill="#ffff80" stroke="#808000" stroke-width="1.9"/>
<circle cx="1198.2" cy="189.45" r="8.05" fill="#ffff80" stroke="#808000" stroke-width="1.9"/>
<circle cx="1246.15" cy="181.74" r="8.05" fill="#ffff80" stroke="#808000" stroke-width="1.9"/>
<circle cx="1294.1" cy="173.22" r="8.05" fill="#ffff80" stroke="#808000" stroke-width="1.9"/>
<circle cx="1342.05" cy="169.22" r="8.05" fill="#ffff80" stroke="#808000" stroke-width="1.9"/>
<circle cx="1390" cy="166.41" r="8.05" fill="#ffff80" stroke="#808000" stroke-width="1.9"/>
<circle cx="1437.95" cy="196.66" r="8.05" fill="#ffff80" stroke="#808000" stroke-width="1.9"/>
<circle cx="1485.9" cy="161.71" r="8.05" fill="#ffff80" stroke="#808000" stroke-width="1.9"/>
<rect x="1094.25" y="377.79" width="16.1" height="16.1" fill="#ffe0e0" stroke="#80605f" stroke-width="1.9"/>
<rect x="1142.2" y="243.59" width="16.1" height="16.1" fill="#ffe0e0" stroke="#80605f" stroke-width="1.9"/>
<rect x="1190.15" y="208.04" width="16.1" height="16.1" fill="#ffe0e0" stroke="#80605f" stroke-width="1.9"/>
<rect x="1238.1" y="198.02" width="16.1" height="16.1" fill="#ffe0e0" stroke="#80605f" stroke-width="1.9"/>
<rect x="1286.05" y="183" width="16.1" height="16.1" fill="#ffe0e0" stroke="#80605f" stroke-width="1.9"/>
<rect x="1334" y="179.39" width="16.1" height="16.1" fill="#ffe0e0" stroke="#80605f" stroke-width="1.9"/>
<rect x="1381.95" y="184.2" width="16.1" height="16.1" fill="#ffe0e0" stroke="#80605f" stroke-width="1.9"/>
<rect x="1429.9" y="181.4" width="16.1" height="16.1" fill="#ffe0e0" stroke="#80605f" stroke-width="1.9"/>
<rect x="1477.85" y="179.69" width="16.1" height="16.1" fill="#ffe0e0" stroke="#80605f" stroke-width="1.9"/>
<circle cx="1102.3" cy="299.41" r="8.05" fill="#80ff80" stroke="#008a00" stroke-width="1.9"/><path d="M1096.61 293.72L1107.99 305.1M1096.61 305.1L1107.99 293.72" fill="none" stroke="#008a00" stroke-width="1.9"/>
<circle cx="1150.25" cy="223.3" r="8.05" fill="#80ff80" stroke="#008a00" stroke-width="1.9"/><path d="M1144.56 217.61L1155.94 228.99M1144.56 228.99L1155.94 217.61" fill="none" stroke="#008a00" stroke-width="1.9"/>
<circle cx="1198.2" cy="185.24" r="8.05" fill="#80ff80" stroke="#008a00" stroke-width="1.9"/><path d="M1192.51 179.55L1203.89 190.93M1192.51 190.93L1203.89 179.55" fill="none" stroke="#008a00" stroke-width="1.9"/>
<circle cx="1246.15" cy="182.74" r="8.05" fill="#80ff80" stroke="#008a00" stroke-width="1.9"/><path d="M1240.46 177.04L1251.84 188.43M1240.46 188.43L1251.84 177.04" fill="none" stroke="#008a00" stroke-width="1.9"/>
<circle cx="1294.1" cy="173.32" r="8.05" fill="#80ff80" stroke="#008a00" stroke-width="1.9"/><path d="M1288.41 167.63L1299.79 179.01M1288.41 179.01L1299.79 167.63" fill="none" stroke="#008a00" stroke-width="1.9"/>
<circle cx="1342.05" cy="173.32" r="8.05" fill="#80ff80" stroke="#008a00" stroke-width="1.9"/><path d="M1336.36 167.63L1347.74 179.01M1336.36 179.01L1347.74 167.63" fill="none" stroke="#008a00" stroke-width="1.9"/>
<circle cx="1390" cy="166.11" r="8.05" fill="#80ff80" stroke="#008a00" stroke-width="1.9"/><path d="M1384.31 160.42L1395.69 171.8M1384.31 171.8L1395.69 160.42" fill="none" stroke="#008a00" stroke-width="1.9"/>
<circle cx="1437.95" cy="163.91" r="8.05" fill="#80ff80" stroke="#008a00" stroke-width="1.9"/><path d="M1432.26 158.22L1443.64 169.6M1432.26 169.6L1443.64 158.22" fill="none" stroke="#008a00" stroke-width="1.9"/>
<circle cx="1485.9" cy="161.1" r="8.05" fill="#80ff80" stroke="#008a00" stroke-width="1.9"/><path d="M1480.21 155.41L1491.59 166.8M1480.21 166.8L1491.59 155.41" fill="none" stroke="#008a00" stroke-width="1.9"/>
<path d="M1102.3 304.42L1102.3 296.12M1102.3 304.42L1094.41 301.85M1102.3 304.42L1097.42 311.13M1102.3 304.42L1107.18 311.13M1102.3 304.42L1110.19 301.85" fill="none" stroke="#9a9562" stroke-width="1.9"/>
<path d="M1150.25 214.38L1150.25 206.08M1150.25 214.38L1142.36 211.82M1150.25 214.38L1145.37 221.1M1150.25 214.38L1155.13 221.1M1150.25 214.38L1158.14 211.82" fill="none" stroke="#9a9562" stroke-width="1.9"/>
<path d="M1198.2 172.82L1198.2 164.52M1198.2 172.82L1190.31 170.26M1198.2 172.82L1193.32 179.54M1198.2 172.82L1203.08 179.54M1198.2 172.82L1206.09 170.26" fill="none" stroke="#9a9562" stroke-width="1.9"/>
<path d="M1246.15 170.02L1246.15 161.72M1246.15 170.02L1238.26 167.45M1246.15 170.02L1241.27 176.73M1246.15 170.02L1251.03 176.73M1246.15 170.02L1254.04 167.45" fill="none" stroke="#9a9562" stroke-width="1.9"/>
<path d="M1294.1 166.21L1294.1 157.91M1294.1 166.21L1286.21 163.65M1294.1 166.21L1289.22 172.93M1294.1 166.21L1298.98 172.93M1294.1 166.21L1301.99 163.65" fill="none" stroke="#9a9562" stroke-width="1.9"/>
<path d="M1342.05 165.81L1342.05 157.51M1342.05 165.81L1334.16 163.25M1342.05 165.81L1337.17 172.53M1342.05 165.81L1346.93 172.53M1342.05 165.81L1349.94 163.25" fill="none" stroke="#9a9562" stroke-width="1.9"/>
<path d="M1390 166.71L1390 158.41M1390 166.71L1382.11 164.15M1390 166.71L1385.12 173.43M1390 166.71L1394.88 173.43M1390 166.71L1397.89 164.15" fill="none" stroke="#9a9562" stroke-width="1.9"/>
<path d="M1437.95 168.72L1437.95 160.42M1437.95 168.72L1430.06 166.15M1437.95 168.72L1433.07 175.43M1437.95 168.72L1442.83 175.43M1437.95 168.72L1445.84 166.15" fill="none" stroke="#9a9562" stroke-width="1.9"/>
<path d="M1485.9 168.72L1485.9 160.42M1485.9 168.72L1478.01 166.15M1485.9 168.72L1481.02 175.43M1485.9 168.72L1490.78 175.43M1485.9 168.72L1493.79 166.15" fill="none" stroke="#9a9562" stroke-width="1.9"/>
</g>
<rect x="1079.3" y="137.3" width="429.2" height="281.25" fill="none" stroke="#000" stroke-width="2.2"/>
<g text-anchor="end">
<text x="1064.7" y="415.47">75</text>
<text x="1064.7" y="365.4">80</text>
<text x="1064.7" y="315.32">85</text>
<text x="1064.7" y="265.25">90</text>
<text x="1064.7" y="215.17">95</text>
<text x="1064.7" y="165.1">100</text>
</g>
<g text-anchor="middle">
<text x="1102.3" y="447.3">10</text>
<text x="1150.25" y="447.3">20</text>
<text x="1198.2" y="447.3">30</text>
<text x="1246.15" y="447.3">40</text>
<text x="1294.1" y="447.3">50</text>
<text x="1342.05" y="447.3">60</text>
<text x="1390" y="447.3">70</text>
<text x="1437.95" y="447.3">80</text>
<text x="1485.9" y="447.3">90</text>
<text x="1293.9" y="488.9"># Features</text>
<text x="1293.9" y="126.9">warpPIE10P</text>
</g>
</g>
<g id="plot3">
<clipPath id="clip3"><rect x="1578.5" y="137.3" width="429.4" height="281.25"/></clipPath>
<path d="M1578.5 406.5H2007.9M1578.5 345.65H2007.9M1578.5 284.8H2007.9M1578.5 223.95H2007.9M1578.5 163.1H2007.9" stroke="#bfbfbf" stroke-width="1.8" fill="none"/>
<path d="M1578.5 406.5h17.0M2007.9 406.5h-17.0M1578.5 345.65h17.0M2007.9 345.65h-17.0M1578.5 284.8h17.0M2007.9 284.8h-17.0M1578.5 223.95h17.0M2007.9 223.95h-17.0M1578.5 163.1h17.0M2007.9 163.1h-17.0" stroke="#7f7f7f" stroke-width="1.8" fill="none"/>
<g clip-path="url(#clip3)" fill="none" stroke-width="1.75" stroke-linejoin="round">
<polyline points="1601.5,216.1 1649.45,189.45 1697.4,192.92 1745.35,183.3 1793.3,168.88 1841.25,174.42 1889.2,174.66 1937.15,177.22 1985.1,171.07" stroke="#0000ff"/>
<polyline points="1601.5,225.17 1649.45,183.3 1697.4,173.32 1745.35,173.32 1793.3,173.32 1841.25,173.32 1889.2,170.22 1937.15,170.22 1985.1,170.22" stroke="#ff0000"/>
<polyline points="1601.5,410.15 1649.45,343.4 1697.4,302.14 1745.35,227.91 1793.3,224.98 1841.25,209.35 1889.2,206.55 1937.15,193.89 1985.1,188.29" stroke="#7a4b1e"/>
<polyline points="1601.5,410.15 1649.45,343.4 1697.4,308.53 1745.35,227.91 1793.3,216.1 1841.25,206.55 1889.2,200.52 1937.15,187.74 1985.1,190.48" stroke="#000000"/>
<polyline points="1601.5,313.22 1649.45,295.02 1697.4,282.79 1745.35,264.6 1793.3,249.51 1841.25,238.37 1889.2,216.1 1937.15,216.1 1985.1,210.56" stroke="#38062c"/>
<polyline points="1601.5,179.41 1649.45,173.32 1697.4,167.24 1745.35,167.36 1793.3,167.36 1841.25,164.01 1889.2,162.8 1937.15,162.8 1985.1,162.8" stroke="#808000"/>
<polyline points="1601.5,368.35 1649.45,328.31 1697.4,310.6 1745.35,301.23 1793.3,282.79 1841.25,273.85 1889.2,264.6 1937.15,264.6 1985.1,243.42" stroke="#80605f"/>
<polyline points="1601.5,224.98 1649.45,188.29 1697.4,182.75 1745.35,173.32 1793.3,167.24 1841.25,161.09 1889.2,161.09 1937.15,161.09 1985.1,161.09" stroke="#008a00"/>
<polyline points="1601.5,300.62 1649.45,216.1 1697.4,192.31 1745.35,180.56 1793.3,173.32 1841.25,168.33 1889.2,167.79 1937.15,167.79 1985.1,163.34" stroke="#9a9562"/>
</g>
<g>
<circle cx="1601.5" cy="216.1" r="8.05" fill="#8080ff" stroke="#0000ff" stroke-width="1.9"/>
<circle cx="1649.45" cy="189.45" r="8.05" fill="#8080ff" stroke="#0000ff" stroke-width="1.9"/>
<circle cx="1697.4" cy="192.92" r="8.05" fill="#8080ff" stroke="#0000ff" stroke-width="1.9"/>
<circle cx="1745.35" cy="183.3" r="8.05" fill="#8080ff" stroke="#0000ff" stroke-width="1.9"/>
<circle cx="1793.3" cy="168.88" r="8.05" fill="#8080ff" stroke="#0000ff" stroke-width="1.9"/>
<circle cx="1841.25" cy="174.42" r="8.05" fill="#8080ff" stroke="#0000ff" stroke-width="1.9"/>
<circle cx="1889.2" cy="174.66" r="8.05" fill="#8080ff" stroke="#0000ff" stroke-width="1.9"/>
<circle cx="1937.15" cy="177.22" r="8.05" fill="#8080ff" stroke="#0000ff" stroke-width="1.9"/>
<circle cx="1985.1" cy="171.07" r="8.05" fill="#8080ff" stroke="#0000ff" stroke-width="1.9"/>
<rect x="1593.45" y="217.12" width="16.1" height="16.1" fill="#ff8080" stroke="#ff0000" stroke-width="1.9"/>
<rect x="1641.4" y="175.25" width="16.1" height="16.1" fill="#ff8080" stroke="#ff0000" stroke-width="1.9"/>
<rect x="1689.35" y="165.27" width="16.1" height="16.1" fill="#ff8080" stroke="#ff0000" stroke-width="1.9"/>
<rect x="1737.3" y="165.27" width="16.1" height="16.1" fill="#ff8080" stroke="#ff0000" stroke-width="1.9"/>
<rect x="1785.25" y="165.27" width="16.1" height="16.1" fill="#ff8080" stroke="#ff0000" stroke-width="1.9"/>
<rect x="1833.2" y="165.27" width="16.1" height="16.1" fill="#ff8080" stroke="#ff0000" stroke-width="1.9"/>
<rect x="1881.15" y="162.17" width="16.1" height="16.1" fill="#ff8080" stroke="#ff0000" stroke-width="1.9"/>
<rect x="1929.1" y="162.17" width="16.1" height="16.1" fill="#ff8080" stroke="#ff0000" stroke-width="1.9"/>
<rect x="1977.05" y="162.17" width="16.1" height="16.1" fill="#ff8080" stroke="#ff0000" stroke-width="1.9"/>
<circle cx="1601.5" cy="410.15" r="8.05" fill="#e9c7a3" stroke="#7a4b1e" stroke-width="1.9"/><path d="M1595.81 404.46L1607.19 415.84M1595.81 415.84L1607.19 404.46" fill="none" stroke="#7a4b1e" stroke-width="1.9"/>
<circle cx="1649.45" cy="343.4" r="8.05" fill="#e9c7a3" stroke="#7a4b1e" stroke-width="1.9"/><path d="M1643.76 337.71L1655.14 349.09M1643.76 349.09L1655.14 337.71" fill="none" stroke="#7a4b1e" stroke-width="1.9"/>
<circle cx="1697.4" cy="302.14" r="8.05" fill="#e9c7a3" stroke="#7a4b1e" stroke-width="1.9"/><path d="M1691.71 296.45L1703.09 307.83M1691.71 307.83L1703.09 296.45" fill="none" stroke="#7a4b1e" stroke-width="1.9"/>
<circle cx="1745.35" cy="227.91" r="8.05" fill="#e9c7a3" stroke="#7a4b1e" stroke-width="1.9"/><path d="M1739.66 222.21L1751.04 233.6M1739.66 233.6L1751.04 222.21" fill="none" stroke="#7a4b1e" stroke-width="1.9"/>
<circle cx="1793.3" cy="224.98" r="8.05" fill="#e9c7a3" stroke="#7a4b1e" stroke-width="1.9"/><path d="M1787.61 219.29L1798.99 230.68M1787.61 230.68L1798.99 219.29" fill="none" stroke="#7a4b1e" stroke-width="1.9"/>
<circle cx="1841.25" cy="209.35" r="8.05" fill="#e9c7a3" stroke="#7a4b1e" stroke-width="1.9"/><path d="M1835.56 203.65L1846.94 215.04M1835.56 215.04L1846.94 203.65" fill="none" stroke="#7a4b1e" stroke-width="1.9"/>
<circle cx="1889.2" cy="206.55" r="8.05" fill="#e9c7a3" stroke="#7a4b1e" stroke-width="1.9"/><path d="M1883.51 200.85L1894.89 212.24M1883.51 212.24L1894.89 200.85" fill="none" stroke="#7a4b1e" stroke-width="1.9"/>
<circle cx="1937.15" cy="193.89" r="8.05" fill="#e9c7a3" stroke="#7a4b1e" stroke-width="1.9"/><path d="M1931.46 188.2L1942.84 199.58M1931.46 199.58L1942.84 188.2" fill="none" stroke="#7a4b1e" stroke-width="1.9"/>
<circle cx="1985.1" cy="188.29" r="8.05" fill="#e9c7a3" stroke="#7a4b1e" stroke-width="1.9"/><path d="M1979.41 182.6L1990.79 193.98M1979.41 193.98L1990.79 182.6" fill="none" stroke="#7a4b1e" stroke-width="1.9"/>
<path d="M1601.5 410.15L1601.5 401.85M1601.5 410.15L1593.61 407.59M1601.5 410.15L1596.62 416.87M1601.5 410.15L1606.38 416.87M1601.5 410.15L1609.39 407.59" fill="none" stroke="#000000" stroke-width="1.9"/>
<path d="M1649.45 343.4L1649.45 335.1M1649.45 343.4L1641.56 340.83M1649.45 343.4L1644.57 350.11M1649.45 343.4L1654.33 350.11M1649.45 343.4L1657.34 340.83" fill="none" stroke="#000000" stroke-width="1.9"/>
<path d="M1697.4 308.53L1697.4 300.23M1697.4 308.53L1689.51 305.97M1697.4 308.53L1692.52 315.25M1697.4 308.53L1702.28 315.25M1697.4 308.53L1705.29 305.97" fill="none" stroke="#000000" stroke-width="1.9"/>
<path d="M1745.35 227.91L1745.35 219.61M1745.35 227.91L1737.46 225.34M1745.35 227.91L1740.47 234.62M1745.35 227.91L1750.23 234.62M1745.35 227.91L1753.24 225.34" fill="none" stroke="#000000" stroke-width="1.9"/>
<path d="M1793.3 216.1L1793.3 207.8M1793.3 216.1L1785.41 213.54M1793.3 216.1L1788.42 222.82M1793.3 216.1L1798.18 222.82M1793.3 216.1L1801.19 213.54" fill="none" stroke="#000000" stroke-width="1.9"/>
<path d="M1841.25 206.55L1841.25 198.25M1841.25 206.55L1833.36 203.98M1841.25 206.55L1836.37 213.26M1841.25 206.55L1846.13 213.26M1841.25 206.55L1849.14 203.98" fill="none" stroke="#000000" stroke-width="1.9"/>
<path d="M1889.2 200.52L1889.2 192.22M1889.2 200.52L1881.31 197.96M1889.2 200.52L1884.32 207.24M1889.2 200.52L1894.08 207.24M1889.2 200.52L1897.09 197.96" fill="none" stroke="#000000" stroke-width="1.9"/>
<path d="M1937.15 187.74L1937.15 179.44M1937.15 187.74L1929.26 185.18M1937.15 187.74L1932.27 194.46M1937.15 187.74L1942.03 194.46M1937.15 187.74L1945.04 185.18" fill="none" stroke="#000000" stroke-width="1.9"/>
<path d="M1985.1 190.48L1985.1 182.18M1985.1 190.48L1977.21 187.92M1985.1 190.48L1980.22 197.2M1985.1 190.48L1989.98 197.2M1985.1 190.48L1992.99 187.92" fill="none" stroke="#000000" stroke-width="1.9"/>
<path d="M1601.5 304.77L1607.58 313.22L1601.5 321.67L1595.42 313.22Z" fill="#b5839f" stroke="#38062c" stroke-width="1.9" stroke-miterlimit="10"/>
<path d="M1649.45 286.57L1655.53 295.02L1649.45 303.47L1643.37 295.02Z" fill="#b5839f" stroke="#38062c" stroke-width="1.9" stroke-miterlimit="10"/>
<path d="M1697.4 274.34L1703.48 282.79L1697.4 291.24L1691.32 282.79Z" fill="#b5839f" stroke="#38062c" stroke-width="1.9" stroke-miterlimit="10"/>
<path d="M1745.35 256.15L1751.43 264.6L1745.35 273.05L1739.27 264.6Z" fill="#b5839f" stroke="#38062c" stroke-width="1.9" stroke-miterlimit="10"/>
<path d="M1793.3 241.06L1799.38 249.51L1793.3 257.96L1787.22 249.51Z" fill="#b5839f" stroke="#38062c" stroke-width="1.9" stroke-miterlimit="10"/>
<path d="M1841.25 229.92L1847.33 238.37L1841.25 246.82L1835.17 238.37Z" fill="#b5839f" stroke="#38062c" stroke-width="1.9" stroke-miterlimit="10"/>
<path d="M1889.2 207.65L1895.28 216.1L1889.2 224.55L1883.12 216.1Z" fill="#b5839f" stroke="#38062c" stroke-width="1.9" stroke-miterlimit="10"/>
<path d="M1937.15 207.65L1943.23 216.1L1937.15 224.55L1931.07 216.1Z" fill="#b5839f" stroke="#38062c" stroke-width="1.9" stroke-miterlimit="10"/>
<path d="M1985.1 202.11L1991.18 210.56L1985.1 219.01L1979.02 210.56Z" fill="#b5839f" stroke="#38062c" stroke-width="1.9" stroke-miterlimit="10"/>
<circle cx="1601.5" cy="179.41" r="8.05" fill="#ffff80" stroke="#808000" stroke-width="1.9"/>
<circle cx="1649.45" cy="173.32" r="8.05" fill="#ffff80" stroke="#808000" stroke-width="1.9"/>
<circle cx="1697.4" cy="167.24" r="8.05" fill="#ffff80" stroke="#808000" stroke-width="1.9"/>
<circle cx="1745.35" cy="167.36" r="8.05" fill="#ffff80" stroke="#808000" stroke-width="1.9"/>
<circle cx="1793.3" cy="167.36" r="8.05" fill="#ffff80" stroke="#808000" stroke-width="1.9"/>
<circle cx="1841.25" cy="164.01" r="8.05" fill="#ffff80" stroke="#808000" stroke-width="1.9"/>
<circle cx="1889.2" cy="162.8" r="8.05" fill="#ffff80" stroke="#808000" stroke-width="1.9"/>
<circle cx="1937.15" cy="162.8" r="8.05" fill="#ffff80" stroke="#808000" stroke-width="1.9"/>
<circle cx="1985.1" cy="162.8" r="8.05" fill="#ffff80" stroke="#808000" stroke-width="1.9"/>
<rect x="1593.45" y="360.3" width="16.1" height="16.1" fill="#ffe0e0" stroke="#80605f" stroke-width="1.9"/>
<rect x="1641.4" y="320.26" width="16.1" height="16.1" fill="#ffe0e0" stroke="#80605f" stroke-width="1.9"/>
<rect x="1689.35" y="302.55" width="16.1" height="16.1" fill="#ffe0e0" stroke="#80605f" stroke-width="1.9"/>
<rect x="1737.3" y="293.18" width="16.1" height="16.1" fill="#ffe0e0" stroke="#80605f" stroke-width="1.9"/>
<rect x="1785.25" y="274.74" width="16.1" height="16.1" fill="#ffe0e0" stroke="#80605f" stroke-width="1.9"/>
<rect x="1833.2" y="265.8" width="16.1" height="16.1" fill="#ffe0e0" stroke="#80605f" stroke-width="1.9"/>
<rect x="1881.15" y="256.55" width="16.1" height="16.1" fill="#ffe0e0" stroke="#80605f" stroke-width="1.9"/>
<rect x="1929.1" y="256.55" width="16.1" height="16.1" fill="#ffe0e0" stroke="#80605f" stroke-width="1.9"/>
<rect x="1977.05" y="235.37" width="16.1" height="16.1" fill="#ffe0e0" stroke="#80605f" stroke-width="1.9"/>
<circle cx="1601.5" cy="224.98" r="8.05" fill="#80ff80" stroke="#008a00" stroke-width="1.9"/><path d="M1595.81 219.29L1607.19 230.68M1595.81 230.68L1607.19 219.29" fill="none" stroke="#008a00" stroke-width="1.9"/>
<circle cx="1649.45" cy="188.29" r="8.05" fill="#80ff80" stroke="#008a00" stroke-width="1.9"/><path d="M1643.76 182.6L1655.14 193.98M1643.76 193.98L1655.14 182.6" fill="none" stroke="#008a00" stroke-width="1.9"/>
<circle cx="1697.4" cy="182.75" r="8.05" fill="#80ff80" stroke="#008a00" stroke-width="1.9"/><path d="M1691.71 177.06L1703.09 188.45M1691.71 188.45L1703.09 177.06" fill="none" stroke="#008a00" stroke-width="1.9"/>
<circle cx="1745.35" cy="173.32" r="8.05" fill="#80ff80" stroke="#008a00" stroke-width="1.9"/><path d="M1739.66 167.63L1751.04 179.02M1739.66 179.02L1751.04 167.63" fill="none" stroke="#008a00" stroke-width="1.9"/>
<circle cx="1793.3" cy="167.24" r="8.05" fill="#80ff80" stroke="#008a00" stroke-width="1.9"/><path d="M1787.61 161.55L1798.99 172.93M1787.61 172.93L1798.99 161.55" fill="none" stroke="#008a00" stroke-width="1.9"/>
<circle cx="1841.25" cy="161.09" r="8.05" fill="#80ff80" stroke="#008a00" stroke-width="1.9"/><path d="M1835.56 155.4L1846.94 166.78M1835.56 166.78L1846.94 155.4" fill="none" stroke="#008a00" stroke-width="1.9"/>
<circle cx="1889.2" cy="161.09" r="8.05" fill="#80ff80" stroke="#008a00" stroke-width="1.9"/><path d="M1883.51 155.4L1894.89 166.78M1883.51 166.78L1894.89 155.4" fill="none" stroke="#008a00" stroke-width="1.9"/>
<circle cx="1937.15" cy="161.09" r="8.05" fill="#80ff80" stroke="#008a00" stroke-width="1.9"/><path d="M1931.46 155.4L1942.84 166.78M1931.46 166.78L1942.84 155.4" fill="none" stroke="#008a00" stroke-width="1.9"/>
<circle cx="1985.1" cy="161.09" r="8.05" fill="#80ff80" stroke="#008a00" stroke-width="1.9"/><path d="M1979.41 155.4L1990.79 166.78M1979.41 166.78L1990.79 155.4" fill="none" stroke="#008a00" stroke-width="1.9"/>
<path d="M1601.5 300.62L1601.5 292.32M1601.5 300.62L1593.61 298.06M1601.5 300.62L1596.62 307.34M1601.5 300.62L1606.38 307.34M1601.5 300.62L1609.39 298.06" fill="none" stroke="#9a9562" stroke-width="1.9"/>
<path d="M1649.45 216.1L1649.45 207.8M1649.45 216.1L1641.56 213.54M1649.45 216.1L1644.57 222.82M1649.45 216.1L1654.33 222.82M1649.45 216.1L1657.34 213.54" fill="none" stroke="#9a9562" stroke-width="1.9"/>
<path d="M1697.4 192.31L1697.4 184.01M1697.4 192.31L1689.51 189.74M1697.4 192.31L1692.52 199.02M1697.4 192.31L1702.28 199.02M1697.4 192.31L1705.29 189.74" fill="none" stroke="#9a9562" stroke-width="1.9"/>
<path d="M1745.35 180.56L1745.35 172.26M1745.35 180.56L1737.46 178M1745.35 180.56L1740.47 187.28M1745.35 180.56L1750.23 187.28M1745.35 180.56L1753.24 178" fill="none" stroke="#9a9562" stroke-width="1.9"/>
<path d="M1793.3 173.32L1793.3 165.02M1793.3 173.32L1785.41 170.76M1793.3 173.32L1788.42 180.04M1793.3 173.32L1798.18 180.04M1793.3 173.32L1801.19 170.76" fill="none" stroke="#9a9562" stroke-width="1.9"/>
<path d="M1841.25 168.33L1841.25 160.03M1841.25 168.33L1833.36 165.77M1841.25 168.33L1836.37 175.05M1841.25 168.33L1846.13 175.05M1841.25 168.33L1849.14 165.77" fill="none" stroke="#9a9562" stroke-width="1.9"/>
<path d="M1889.2 167.79L1889.2 159.49M1889.2 167.79L1881.31 165.22M1889.2 167.79L1884.32 174.5M1889.2 167.79L1894.08 174.5M1889.2 167.79L1897.09 165.22" fill="none" stroke="#9a9562" stroke-width="1.9"/>
<path d="M1937.15 167.79L1937.15 159.49M1937.15 167.79L1929.26 165.22M1937.15 167.79L1932.27 174.5M1937.15 167.79L1942.03 174.5M1937.15 167.79L1945.04 165.22" fill="none" stroke="#9a9562" stroke-width="1.9"/>
<path d="M1985.1 163.34L1985.1 155.04M1985.1 163.34L1977.21 160.78M1985.1 163.34L1980.22 170.06M1985.1 163.34L1989.98 170.06M1985.1 163.34L1992.99 160.78" fill="none" stroke="#9a9562" stroke-width="1.9"/>
</g>
<rect x="1578.5" y="137.3" width="429.4" height="281.25" fill="none" stroke="#000" stroke-width="2.2"/>
<g text-anchor="end">
<text x="1563.9" y="413.4">60</text>
<text x="1563.9" y="352.55">70</text>
<text x="1563.9" y="291.7">80</text>
<text x="1563.9" y="230.85">90</text>
<text x="1563.9" y="170">100</text>
</g>
<g text-anchor="middle">
<text x="1601.5" y="447.3">10</text>
<text x="1649.45" y="447.3">20</text>
<text x="1697.4" y="447.3">30</text>
<text x="1745.35" y="447.3">40</text>
<text x="1793.3" y="447.3">50</text>
<text x="1841.25" y="447.3">60</text>
<text x="1889.2" y="447.3">70</text>
<text x="1937.15" y="447.3">80</text>
<text x="1985.1" y="447.3">90</text>
<text x="1793.2" y="488.9"># Features</text>
<text x="1793.2" y="131.0">orlraws10P</text>
</g>
</g>
<text transform="translate(17.4 277.7) rotate(-90)" text-anchor="middle">CA</text>
<g id="legend">
<rect x="418.6" y="1.55" width="1161.4" height="93.45" fill="#fff" stroke="#000" stroke-width="2.1"/>
<text x="548.4" y="32.7" text-anchor="end">CIFE</text>
<path d="M554.2 26.8h70" stroke="#0000ff" stroke-width="1.75" fill="none"/>
<circle cx="589.2" cy="26.8" r="8.1" fill="#8080ff" stroke="#0000ff" stroke-width="1.9"/>
<text x="788.4" y="33.5" text-anchor="end">JMI</text>
<path d="M794.2 26.0h70" stroke="#ff0000" stroke-width="1.75" fill="none"/>
<rect x="821.1" y="17.9" width="16.2" height="16.2" fill="#ff8080" stroke="#ff0000" stroke-width="1.9"/>
<text x="1019" y="33.5" text-anchor="end">Fisher</text>
<path d="M1024.2 26.0h70" stroke="#7a4b1e" stroke-width="1.75" fill="none"/>
<circle cx="1059.2" cy="26" r="8.1" fill="#e9c7a3" stroke="#7a4b1e" stroke-width="1.9"/><path d="M1053.47 20.27L1064.93 31.73M1053.47 31.73L1064.93 20.27" fill="none" stroke="#7a4b1e" stroke-width="1.9"/>
<text x="1280" y="33.5" text-anchor="end">Trace Ratio</text>
<path d="M1285.8 26.0h70" stroke="#000000" stroke-width="1.75" fill="none"/>
<path d="M1320.8 26L1320.8 17.65M1320.8 26L1312.86 23.42M1320.8 26L1315.89 32.76M1320.8 26L1325.71 32.76M1320.8 26L1328.74 23.42" fill="none" stroke="#000000" stroke-width="1.9"/>
<text x="1482.8" y="33.5" text-anchor="end">Lars</text>
<path d="M1488.4 26.1h70" stroke="#38062c" stroke-width="1.75" fill="none"/>
<path d="M1523.4 17.6L1529.52 26.1L1523.4 34.6L1517.28 26.1Z" fill="#b5839f" stroke="#38062c" stroke-width="1.9" stroke-miterlimit="10"/>
<text x="576.6" y="72.1" text-anchor="end">HSIC-Lasso</text>
<path d="M582.4 64.6h70" stroke="#808000" stroke-width="1.75" fill="none"/>
<circle cx="617.4" cy="64.6" r="8.1" fill="#ffff80" stroke="#808000" stroke-width="1.9"/>
<text x="800.5" y="72.1" text-anchor="end">SMNB</text>
<path d="M807 64.6h70" stroke="#80605f" stroke-width="1.75" fill="none"/>
<rect x="833.9" y="56.5" width="16.2" height="16.2" fill="#ffe0e0" stroke="#80605f" stroke-width="1.9"/>
<text x="1015.4" y="72.1" text-anchor="end">CCM</text>
<path d="M1021.5 64.6h70" stroke="#9a9562" stroke-width="1.75" fill="none"/>
<path d="M1056.5 64.6L1056.5 56.25M1056.5 64.6L1048.56 62.02M1056.5 64.6L1051.59 71.36M1056.5 64.6L1061.41 71.36M1056.5 64.6L1064.44 62.02" fill="none" stroke="#9a9562" stroke-width="1.9"/>
<text x="1256.8" y="72.1" text-anchor="end">SVFS</text>
<path d="M1262.7 64.6h70" stroke="#008a00" stroke-width="1.75" fill="none"/>
<circle cx="1297.7" cy="64.6" r="8.1" fill="#80ff80" stroke="#008a00" stroke-width="1.9"/><path d="M1291.97 58.87L1303.43 70.33M1291.97 70.33L1303.43 58.87" fill="none" stroke="#008a00" stroke-width="1.9"/>
</g>
</svg>
</body></html>
